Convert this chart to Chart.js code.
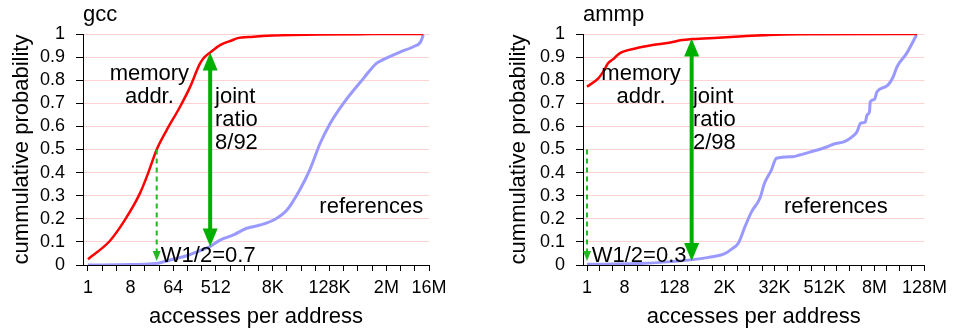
<!DOCTYPE html>
<html>
<head>
<meta charset="utf-8">
<title>gcc / ammp - cumulative probability</title>
<script src="https://cdn.jsdelivr.net/npm/chart.js@4.4.1/dist/chart.umd.min.js"></script>
<style>
  body { margin: 0; background: #fff; }
  .wrap { position: relative; width: 953px; height: 329px; }
  canvas { position: absolute; top: 0; }
  #gcc { left: 0; }
  #ammp { left: 500px; }
</style>
</head>
<body>
<div class="wrap">
  <canvas id="gcc" width="453" height="329"></canvas>
  <canvas id="ammp" width="453" height="329"></canvas>
</div>
<script>
// values: accesses per address (x) vs cumulative probability (y)
const gccMemX = [1, 2.93, 6.06, 12.6, 19, 28.6, 46.5, 89.3, 145, 237, 294, 388, 630, 1176, 1418, 3191, 8192, 80700, 1050000, 12710000];
const gccMemY = [0.025, 0.105, 0.195, 0.31, 0.40, 0.50, 0.584, 0.685, 0.77, 0.873, 0.90, 0.92, 0.952, 0.974, 0.981, 0.988, 0.993, 0.998, 0.9995, 1];
const gccRefX = [1, 8, 22.6, 34, 64, 124, 256, 388, 630, 1210, 2300, 4400, 9200, 16400, 30600, 49700, 83000, 135000, 258000, 687000, 1290000, 1830000, 4190000, 7830000, 11070000, 12710000];
const gccRefY = [0, 0.002, 0.005, 0.01, 0.025, 0.04, 0.065, 0.08, 0.108, 0.13, 0.159, 0.173, 0.198, 0.238, 0.325, 0.411, 0.527, 0.613, 0.70, 0.808, 0.873, 0.89, 0.923, 0.945, 0.965, 0.996];

const ammpMemX = [1, 1.87, 2.46, 3.2, 4.2, 6.1, 15.2, 38, 95, 194, 342, 1450, 5800, 23200, 131000, 88600000];
const ammpMemY = [0.772, 0.808, 0.837, 0.873, 0.89, 0.916, 0.938, 0.952, 0.962, 0.974, 0.978, 0.984, 0.99, 0.996, 0.999, 1];
const ammpRefX = [1, 16, 239, 855, 2130, 3100, 4390, 6380, 9210, 14600, 18800, 27500, 36400, 90800, 131000, 245000, 619000, 893000, 1580000, 2410000, 3180000, 3860000, 5060000, 5540000, 6360000, 6630000, 8390000, 9640000, 16800000, 23700000, 29200000, 49800000, 86200000];
const ammpRefY = [0.003, 0.006, 0.02, 0.033, 0.05, 0.07, 0.094, 0.166, 0.231, 0.289, 0.354, 0.411, 0.462, 0.469, 0.476, 0.49, 0.512, 0.524, 0.534, 0.555, 0.577, 0.613, 0.62, 0.649, 0.664, 0.707, 0.717, 0.75, 0.775, 0.815, 0.858, 0.916, 0.996];

// axis ticks
const yTickValues = [0, 0.1, 0.2, 0.3, 0.4, 0.5, 0.6, 0.7, 0.8, 0.9, 1];
const yTickLabels = ['0', '0.1', '0.2', '0.3', '0.4', '0.5', '0.6', '0.7', '0.8', '0.9', '1'];
const gccTickValues = [1, 8, 64, 512, 8192, 131072, 2097152, 16777216];
const gccTickLabels = ['1', '8', '64', '512', '8K', '128K', '2M', '16M'];
const ammpTickValues = [1, 8, 128, 2048, 32768, 524288, 8388608, 134217728];
const ammpTickLabels = ['1', '8', '128', '2K', '32K', '512K', '8M', '128M'];

const FONT = '"Liberation Sans", Arial, sans-serif';
Chart.defaults.font.family = FONT;
Chart.defaults.color = '#000';

const toPoints = (xs, ys) => xs.map((x, i) => ({ x: x, y: ys[i] }));

function arrowHead(ctx, px, py, dir, w, h) {
  ctx.beginPath();
  ctx.moveTo(px, py);
  ctx.lineTo(px - w / 2, py - dir * h);
  ctx.lineTo(px + w / 2, py - dir * h);
  ctx.closePath();
  ctx.fill();
}

const annotate = {
  id: 'annotate',
  afterDatasetsDraw(chart, args, opts) {
    const { ctx, chartArea } = chart;
    const x = chart.scales.x, y = chart.scales.y;
    ctx.save();
    ctx.fillStyle = '#000';
    ctx.font = '22px ' + FONT;
    ctx.textBaseline = 'middle';
    ctx.textAlign = 'left';
    ctx.fillText(opts.title, chartArea.left, 15);

    opts.labels.forEach(l => {
      ctx.textAlign = l.align;
      l.text.forEach((t, i) => {
        ctx.fillText(t, x.getPixelForValue(l.x), y.getPixelForValue(l.y) + i * 23);
      });
    });

    // joint ratio double arrow
    const green = '#00b000';
    const ax = x.getPixelForValue(opts.joint.x);
    const top = y.getPixelForValue(opts.joint.to);
    const bot = y.getPixelForValue(opts.joint.from);
    ctx.strokeStyle = green;
    ctx.fillStyle = green;
    ctx.lineWidth = 4;
    ctx.beginPath();
    ctx.moveTo(ax, top + 15);
    ctx.lineTo(ax, bot - 15);
    ctx.stroke();
    arrowHead(ctx, ax, top, -1, 15, 18);
    arrowHead(ctx, ax, bot, 1, 15, 18);

    // W1/2 dashed arrow
    const dx = x.getPixelForValue(opts.half.x);
    const dTop = y.getPixelForValue(opts.half.from);
    const dTip = y.getPixelForValue(opts.half.to);
    ctx.strokeStyle = '#22b822';
    ctx.fillStyle = '#22b822';
    ctx.lineWidth = 2;
    ctx.setLineDash([5, 4]);
    ctx.beginPath();
    ctx.moveTo(dx, dTop);
    ctx.lineTo(dx, dTip - 9);
    ctx.stroke();
    ctx.setLineDash([]);
    arrowHead(ctx, dx, dTip, 1, 8, 10);
    ctx.restore();
  }
};

function makeChart(id, memPts, refPts, xMin, xMax, tickValues, tickLabels, yTitlePad, notes) {
  const octaves = [];
  for (let v = 1; v <= xMax * 1.001; v *= 2) octaves.push(v);
  return new Chart(document.getElementById(id), {
    type: 'line',
    data: {
      datasets: [
        {
          label: 'memory addr.',
          data: memPts,
          borderColor: '#ff0000',
          borderWidth: 2.5,
          pointRadius: 0,
          cubicInterpolationMode: 'monotone',
          fill: false
        },
        {
          label: 'references',
          data: refPts,
          borderColor: '#9999ff',
          borderWidth: 3,
          pointRadius: 0,
          cubicInterpolationMode: 'monotone',
          fill: false
        }
      ]
    },
    options: {
      responsive: false,
      animation: false,
      events: [],
      layout: { padding: { top: 34, right: 24, left: 0, bottom: 0 } },
      plugins: {
        legend: { display: false },
        tooltip: { enabled: false },
        annotate: notes
      },
      scales: {
        x: {
          type: 'logarithmic',
          min: xMin,
          max: xMax,
          afterBuildTicks: (axis) => { axis.ticks = octaves.map(v => ({ value: v })); },
          afterFit: (axis) => { axis.height = 64; },
          grid: { drawOnChartArea: false, tickColor: '#000', tickLength: 6 },
          border: { color: '#000', width: 1 },
          ticks: {
            autoSkip: false,
            maxRotation: 0,
            minRotation: 0,
            padding: 6,
            font: { size: 18 },
            callback: (v) => {
              const k = tickValues.indexOf(v);
              return k >= 0 ? tickLabels[k] : '';
            }
          },
          title: {
            display: true,
            text: 'accesses per address',
            font: { size: 22, lineHeight: 1 },
            padding: { top: 0, bottom: 1 }
          }
        },
        y: {
          type: 'linear',
          min: 0,
          max: 1,
          afterBuildTicks: (axis) => { axis.ticks = yTickValues.map(v => ({ value: v })); },
          afterFit: (axis) => { axis.width = 83; },
          grid: { color: '#ffd2d2', tickColor: '#000', tickLength: 7 },
          border: { color: '#000', width: 1 },
          ticks: {
            autoSkip: false,
            padding: 11,
            font: { size: 18 },
            callback: (v, i) => yTickLabels[i]
          },
          title: {
            display: true,
            text: 'cummulative probability',
            font: { size: 22, lineHeight: 1 },
            padding: { top: yTitlePad, bottom: 0 }
          }
        }
      }
    },
    plugins: [annotate]
  });
}

makeChart('gcc', toPoints(gccMemX, gccMemY), toPoints(gccRefX, gccRefY),
  0.785, 16777216, gccTickValues, gccTickLabels, 11, {
    title: 'gcc',
    labels: [
      { text: ['memory', 'addr.'], x: 20, y: 0.827, align: 'center' },
      { text: ['joint', 'ratio', '8/92'], x: 492, y: 0.727, align: 'left' },
      { text: ['W1/2=0.7'], x: 35, y: 0.039, align: 'left' },
      { text: ['references'], x: 12700000, y: 0.251, align: 'right' }
    ],
    joint: { x: 388, from: 0.08, to: 0.92 },
    half: { x: 28.6, from: 0.5, to: 0.017 }
  });

makeChart('ammp', toPoints(ammpMemX, ammpMemY), toPoints(ammpRefX, ammpRefY),
  0.80, 134217728, ammpTickValues, ammpTickLabels, 8, {
    title: 'ammp',
    labels: [
      { text: ['memory', 'addr.'], x: 20, y: 0.827, align: 'center' },
      { text: ['joint', 'ratio', '2/98'], x: 355, y: 0.727, align: 'left' },
      { text: ['W1/2=0.3'], x: 1.3, y: 0.039, align: 'left' },
      { text: ['references'], x: 17600000, y: 0.251, align: 'right' }
    ],
    joint: { x: 331, from: 0.017, to: 0.98 },
    half: { x: 1, from: 0.5, to: 0.017 }
  });
</script>
</body>
</html>
